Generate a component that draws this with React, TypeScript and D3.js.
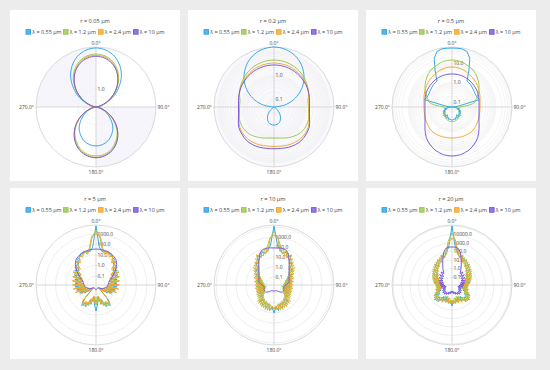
import React from 'react';
import * as d3 from 'd3';

// legend / titles
const wavelengths = ['λ = 0.55 μm', 'λ = 1.2 μm', 'λ = 2.4 μm', 'λ = 10 μm'];
const colors = ['#2ea3e6', '#94c94a', '#f5a52a', '#7457d9'];
const radiusTitles = ['r = 0.05 μm', 'r = 0.2 μm', 'r = 0.5 μm', 'r = 5 μm', 'r = 10 μm', 'r = 20 μm'];
const angleLabels = ['0.0°', '90.0°', '180.0°', '270.0°'];

// phase function values, sampled evenly from 0° to 180° (mirrored for 180°..360°)
// r = 0.05 um
const p005_055 = [1.93, 1.89, 1.78, 1.61, 1.41, 1.2, 1.02, 0.87, 0.78, 0.75, 0.77, 0.83, 0.92, 1.02, 1.14, 1.24, 1.33, 1.38, 1.4];
const p005_12 = [1.75, 1.72, 1.63, 1.49, 1.32, 1.14, 0.98, 0.86, 0.78, 0.75, 0.78, 0.85, 0.97, 1.11, 1.27, 1.41, 1.54, 1.62, 1.64];
const p005_24 = [1.72, 1.69, 1.6, 1.46, 1.3, 1.13, 0.98, 0.86, 0.78, 0.75, 0.78, 0.85, 0.97, 1.12, 1.29, 1.44, 1.57, 1.65, 1.68];
const p005_10 = [1.69, 1.66, 1.58, 1.45, 1.29, 1.13, 0.975, 0.85, 0.78, 0.75, 0.78, 0.85, 0.975, 1.13, 1.29, 1.45, 1.58, 1.66, 1.69];

// r = 0.2 um
const p02_055 = [14.7, 13.3, 10.4, 6.8, 3.8, 1.9, 0.83, 0.33, 0.126, 0.03, 0.03, 0.03, 0.045, 0.068, 0.11, 0.16, 0.22, 0.25, 0.26];
const p02_12 = [4.2, 4.1, 3.8, 3.4, 2.9, 2.4, 1.96, 1.57, 1.26, 1.27, 1.33, 1.57, 1.65, 1.65, 1.5, 1.28, 1.1, 0.95, 0.91];
const p02_24 = [3.16, 3.1, 2.96, 2.74, 2.46, 2.18, 1.88, 1.62, 1.39, 1.33, 1.4, 1.65, 2.09, 2.33, 2.44, 2.37, 2.24, 2.09, 2.03];
const p02_10 = [2.61, 2.59, 2.49, 2.37, 2.2, 2.01, 1.83, 1.65, 1.48, 1.4, 1.47, 1.75, 2.3, 2.61, 2.93, 2.96, 2.82, 2.61, 2.54];

// r = 0.5 um
const p05_055 = [58.5, 58.5, 58.5, 49, 25.6, 6.24, 1.91, 1.8, 1.71, 1.55, 1.43, 1.35, 1.27, 1.31, 1.35, 1.52, 0.143, 0.089, 0.05,
  0.07, 0.1, 0.143, 0.113, 0.18, 0.143, 0.203, 0.16, 0.228, 0.18, 0.228, 0.16, 0.24, 0.203, 0.257, 0.228, 0.257, 0.257];
const p05_12 = [14.2, 13.4, 10.6, 8.3, 5.55, 3.5, 2.08, 1.22, 0.74, 0.143, 0.088, 0.1, 0.133, 0.168, 0.21, 0.25, 0.28, 0.306, 0.314];
const p05_24 = [6.24, 5.9, 5.1, 4.1, 3.46, 2.8, 2.28, 1.87, 1.6, 1.52, 1.55, 1.67, 1.81, 2.03, 2.28, 2.28, 2.24, 2.18, 2.16];
const p05_10 = [2.73, 2.7, 2.6, 2.43, 2.2, 2.03, 1.81, 1.6, 1.41, 1.35, 1.41, 1.64, 2.2, 3.54, 6.2, 9.6, 13.5, 16.8, 18];

// r = 5 um
const p5_055 = [5780, 58, 24, 30, 24, 30, 15.5, 15.5, 5.2, 6.5, 1.73, 4.2, 0.72, 2.7, 0.46, 1.73, 0.37, 1.39, 0.3, 1.39,
  0.24, 1.12, 0.155, 0.72, 0.125, 0.3, 0.052, 0.033, 0.9, 3.3, 1.39, 2.7, 0.46, 1.12, 0.19, 0.9, 4.2];
const p5_12 = [2400, 416, 37, 19.3, 30, 19.3, 19.3, 8, 10, 2.7, 5.2, 1.12, 4.2, 0.46, 2.7, 0.3, 2.15, 0.24, 1.73, 0.19,
  1.73, 0.155, 1.12, 0.1, 0.58, 0.065, 0.1, 0.027, 0.58, 2.15, 2.7, 0.9, 1.73, 0.24, 0.58, 0.19, 1.12];
const p5_24 = [1000, 645, 58, 15.5, 37, 12.5, 24, 5.2, 12.5, 1.73, 6.5, 0.72, 4.2, 0.37, 3.3, 0.24, 2.7, 0.19, 2.4, 0.155,
  2.15, 0.125, 1.73, 0.08, 0.72, 0.052, 0.125, 0.033, 1.12, 2.15, 0.9, 2.15, 0.37, 0.9, 0.155, 0.58, 0.9];
const p5_10 = [37, 35.5, 32, 24, 14, 4.2, 1.12, 0.37, 0.24, 0.19, 0.155, 0.1, 0.065, 0.042, 0.033, 0.03, 0.03, 0.033, 0.042];

// r = 10 um
const p10_055 = [12600, 158, 63, 31.6, 50, 20, 40, 7.9, 10, 2, 4, 1, 2, 0.4, 1, 0.25, 0.79, 0.2, 0.63, 0.158,
  0.63, 0.158, 0.63, 0.2, 0.79, 0.25, 1, 0.5, 2.5, 0.79, 4, 1.26, 5, 1.58, 6.3, 2.5, 10];
const p10_12 = [3980, 631, 40, 79, 20, 50, 12.6, 25, 3.16, 10, 1.26, 5, 0.5, 2, 0.25, 1.26, 0.158, 1, 0.126, 1,
  0.1, 1, 0.126, 1.26, 0.158, 1.58, 0.25, 3.16, 0.63, 4, 1, 5, 1.26, 6.3, 1.58, 5, 3.16];
const p10_24 = [1585, 794, 126, 25, 79, 15.8, 50, 6.3, 15.8, 2.5, 7.9, 1, 3.16, 0.4, 2, 0.25, 1.58, 0.2, 1.26, 0.158,
  1.26, 0.158, 1.26, 0.2, 1.58, 0.25, 2, 0.5, 4, 0.79, 5, 1, 6.3, 1.26, 5, 2, 4];
const p10_10 = [79, 89, 71, 15.8, 3.55, 1.45, 0.85, 0.63, 0.5, 0.25, 0.158, 0.178, 0.2, 0.2, 0.126, 0.079, 0.063, 0.063, 0.063];

// r = 20 um
const p20_055 = [100000, 338, 87.3, 29.6, 50.8, 13.1, 29.6, 5.82, 17.2, 2.58, 7.62, 1.145, 4.44, 0.666, 2.58, 0.388, 1.5, 0.225, 0.873, 0.172,
  0.666, 0.172, 0.873, 0.296, 2.58, 0.666, 5.82, 1.145, 3.38, 0.508, 1.5, 0.388, 1.145, 0.508, 1.5, 0.873, 3.38];
const p20_12 = [15000, 1718, 50.8, 87.3, 17.2, 38.8, 7.62, 22.5, 3.38, 13.1, 1.5, 7.62, 0.873, 4.44, 0.508, 2.58, 0.296, 1.5, 0.172, 0.873,
  0.131, 1.145, 0.225, 1.97, 0.508, 4.44, 1.145, 4.44, 0.873, 1.97, 0.388, 1.5, 0.296, 1.5, 0.388, 1.97, 0.666];
const p20_24 = [3875, 1000, 150, 22.5, 66.6, 10, 29.6, 4.44, 17.2, 1.97, 10, 0.873, 5.82, 0.508, 3.38, 0.296, 1.97, 0.172, 1.145, 0.131,
  0.873, 0.225, 1.145, 0.508, 3.38, 1.5, 4.44, 2.58, 4.44, 1.145, 2.58, 0.666, 1.97, 0.508, 1.97, 0.666, 1.5];
const p20_10 = [338, 338, 258, 87.3, 17.2, 4.44, 1.5, 0.508, 1.145, 0.296, 0.873, 0.225, 0.666, 0.172, 0.508, 0.131, 0.388, 0.1, 0.296, 0.0762,
  0.225, 0.058, 0.172, 0.0762, 0.225, 0.1, 0.296, 0.131, 0.296, 0.131, 0.225, 0.1, 0.172, 0.0762, 0.131, 0.058, 0.1];

// radial axis ranges and labelled ticks
const ranges = [[0.75, 1.96], [0.046, 14.7], [0.0554, 66], [0.0139, 7200], [0.0158, 15850], [0.0115, 131000]];
const tickSets = [[1], [0.1, 1], [0.1, 1, 10], [0.1, 1, 10, 100, 1000], [0.1, 1, 10, 100, 1000], [0.1, 1, 10, 100, 1000, 10000]];
const seriesSets = [
  [p005_055, p005_12, p005_24, p005_10],
  [p02_055, p02_12, p02_24, p02_10],
  [p05_055, p05_12, p05_24, p05_10],
  [p5_055, p5_12, p5_24, p5_10],
  [p10_055, p10_12, p10_24, p10_10],
  [p20_055, p20_12, p20_24, p20_10],
];

const W = 550, H = 370;
const boxX = [10, 188, 366];
const boxY = [10, 188];
const boxW = 170, boxH = 171;
const R = 60;
const font = '"Open Sans", "DejaVu Sans", sans-serif';
const legendX = [16, 53.5, 88.5, 123.5];

const fmt = d3.format('.1f');

const Panel = ({ idx }) => {
  const x0 = boxX[idx % 3];
  const y0 = boxY[Math.floor(idx / 3)];
  const cx = x0 + 86, cy = y0 + 97;
  const [lo, hi] = ranges[idx];
  const r = d3.scaleLog().domain([lo, hi]).range([0, R]).clamp(true);

  // gridline values: every mantissa for short ranges, decades only for long ones
  const minor = idx < 3;
  const grid = [];
  for (let k = Math.floor(Math.log10(lo)); k <= Math.ceil(Math.log10(hi)); k++) {
    const ms = minor ? [1, 2, 3, 4, 5, 6, 7, 8, 9] : [1];
    ms.forEach((m) => {
      const v = m * Math.pow(10, k);
      if (v > lo && v < hi) grid.push(v);
    });
  }

  const pathFor = (vals) => {
    const n = vals.length;
    const step = 180 / (n - 1);
    const pts = vals.map((v, i) => [i * step, v]);
    for (let i = n - 2; i >= 1; i--) pts.push([360 - i * step, vals[i]]);
    const line = d3
      .lineRadial()
      .angle((d) => (d[0] * Math.PI) / 180)
      .radius((d) => r(d[1]))
      .curve(n > 20 ? d3.curveLinearClosed : d3.curveCatmullRomClosed.alpha(0.5));
    return line(pts);
  };

  const quad = d3.arc().innerRadius(0).outerRadius(R);

  return (
    <g>
      <rect x={x0} y={y0} width={boxW} height={boxH} fill="#fff" />
      <text x={x0 + 85} y={y0 + 13} textAnchor="middle" fontSize={5.6} fill="#444" fontFamily={font}>
        {radiusTitles[idx]}
      </text>
      {wavelengths.map((w, i) => (
        <g key={w} transform={`translate(${x0 + legendX[i]},${y0 + 22})`}>
          <rect x={0} y={-2.4} width={4.6} height={4.6} fill={colors[i]} fillOpacity={0.8} stroke={colors[i]} strokeWidth={0.9} />
          <text x={6.3} y={1.9} fontSize={5.4} fill="#444" fontFamily={font}>{w}</text>
        </g>
      ))}
      <g transform={`translate(${cx},${cy})`}>
        {idx === 0 && (
          <g fill="#f6f5fc">
            <path d={quad({ startAngle: -Math.PI / 2, endAngle: 0 })} />
            <path d={quad({ startAngle: Math.PI / 2, endAngle: Math.PI })} />
          </g>
        )}
        {idx === 1 && <circle r={R} fill="#f9f8fd" />}
        {grid.map((v) => (
          <circle key={v} r={r(v)} fill="none" stroke={minor ? '#efefef' : '#e6e6e6'} strokeWidth={0.7} />
        ))}
        <circle r={R} fill="none" stroke="#d6d6d6" strokeWidth={0.9} />
        <line x1={-R} x2={R} y1={0} y2={0} stroke="#cfcfcf" strokeWidth={0.8} />
        <line x1={0} x2={0} y1={-R} y2={R} stroke="#cfcfcf" strokeWidth={0.8} />
        {tickSets[idx].map((t) => (
          <text key={t} x={1.5} y={-r(t) + 1.8} fontSize={5} fill="#444" fontFamily={font}>{fmt(t)}</text>
        ))}
        {seriesSets[idx].map((s, i) => (
          <path key={i} d={pathFor(s)} fill="none" stroke={colors[i]} strokeWidth={0.95} strokeLinejoin="round" />
        ))}
        <text x={0} y={-R - 2.5} textAnchor="middle" fontSize={5} fill="#444" fontFamily={font}>{angleLabels[0]}</text>
        <text x={R + 1.5} y={1.8} textAnchor="start" fontSize={5} fill="#444" fontFamily={font}>{angleLabels[1]}</text>
        <text x={0} y={R + 7} textAnchor="middle" fontSize={5} fill="#444" fontFamily={font}>{angleLabels[2]}</text>
        <text x={-R - 2} y={1.8} textAnchor="end" fontSize={5} fill="#444" fontFamily={font}>{angleLabels[3]}</text>
      </g>
    </g>
  );
};

const App = () => {
  return (
    <svg width={W} height={H} style={{ position: 'absolute', left: 0, top: 0, background: '#ececec' }}>
      {[0, 1, 2, 3, 4, 5].map((i) => (
        <Panel key={i} idx={i} />
      ))}
    </svg>
  );
};

export default App;
